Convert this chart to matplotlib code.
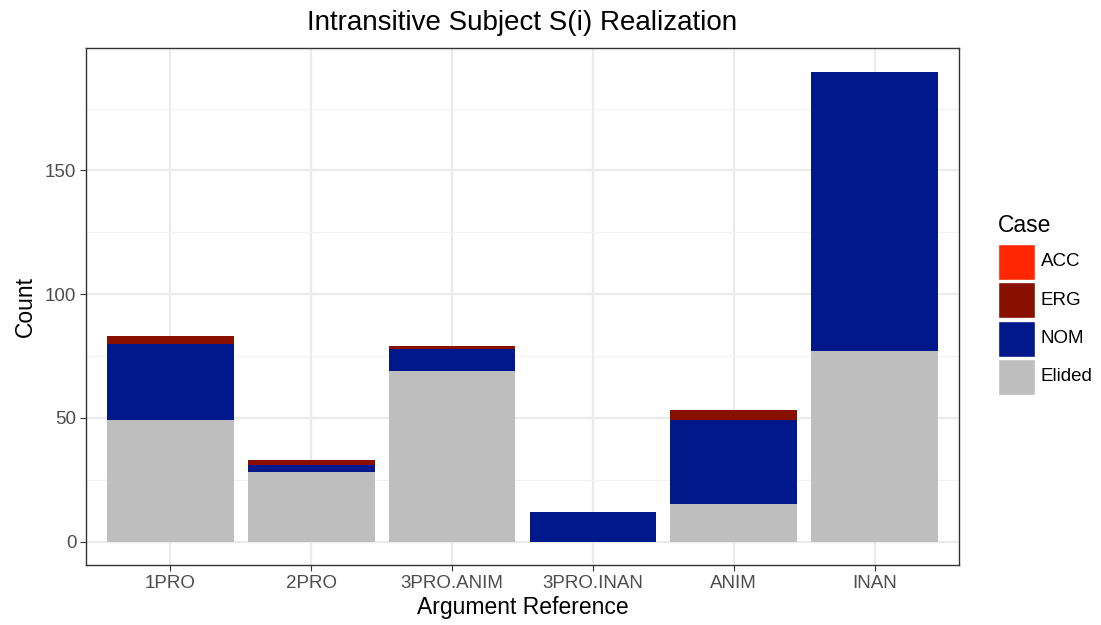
import numpy as np
import matplotlib
matplotlib.use("Agg")
import matplotlib.pyplot as plt
from matplotlib.patches import Rectangle

plt.rcParams['font.family'] = ['Liberation Sans', 'DejaVu Sans']

categories = ["1PRO", "2PRO", "3PRO.ANIM", "3PRO.INAN", "ANIM", "INAN"]
elided = [49, 28, 69, 0, 15, 77]
nom = [31, 3, 9, 12, 34, 113]
erg = [3, 2, 1, 0, 4, 0]
acc = [0, 0, 0, 0, 0, 0]

case_labels = ["ACC", "ERG", "NOM", "Elided"]
case_colors = {"ACC": "#FF2600", "ERG": "#881000", "NOM": "#00188A", "Elided": "#BEBEBE"}

W, H = 1101, 625
fig = plt.figure(figsize=(W / 100, H / 100), dpi=100)
ax = fig.add_axes([86 / W, 60 / H, 873 / W, 517 / H])

x = np.arange(len(categories))
bottom = np.zeros(len(categories))
# stack from the bottom up: Elided, NOM, ERG, ACC
for name, vals in [("Elided", elided), ("NOM", nom), ("ERG", erg), ("ACC", acc)]:
    vals = np.array(vals, dtype=float)
    ax.bar(x, vals, width=0.9, bottom=bottom, color=case_colors[name], zorder=3, linewidth=0)
    bottom += vals

ax.set_xlim(-0.6, len(categories) - 0.4)
ax.set_ylim(-9.5, 199.5)
ax.set_xticks(x)
ax.set_xticklabels(categories)
ax.set_yticks([0, 50, 100, 150])
ax.set_yticks([25, 75, 125, 175], minor=True)

ax.grid(which="major", color="#EBEBEB", linewidth=1.6, zorder=0)
ax.grid(which="minor", axis="y", color="#F2F2F2", linewidth=0.8, zorder=0)
ax.set_axisbelow(True)

for s in ax.spines.values():
    s.set_color("#333333")
    s.set_linewidth(1.0)

ax.tick_params(axis="both", which="major", labelsize=13.5, colors="#333333",
               labelcolor="#4D4D4D", length=4, width=0.8, pad=3)
ax.tick_params(axis="y", which="minor", length=0)

ax.set_xlabel("Argument Reference", fontsize=16.5, labelpad=3)
ax.set_ylabel("Count", fontsize=16.5, labelpad=6)
ax.set_title("Intransitive Subject S(i) Realization", fontsize=20, pad=13)

# legend drawn by hand to get ggplot-sized keys
fig.text(998 / W, 1 - 226 / H, "Case", fontsize=16.5, ha="left", va="center")
key_top = 244
for i, c in enumerate(case_labels):
    y0 = key_top + i * 38.3
    fig.add_artist(Rectangle((998 / W, 1 - (y0 + 36) / H), 37 / W, 36 / H,
                             transform=fig.transFigure, facecolor=case_colors[c],
                             edgecolor="white", linewidth=1))
    fig.text(1041 / W, 1 - (y0 + 18) / H, c, fontsize=13.5, ha="left", va="center")

fig.savefig("out.png", dpi=100)
